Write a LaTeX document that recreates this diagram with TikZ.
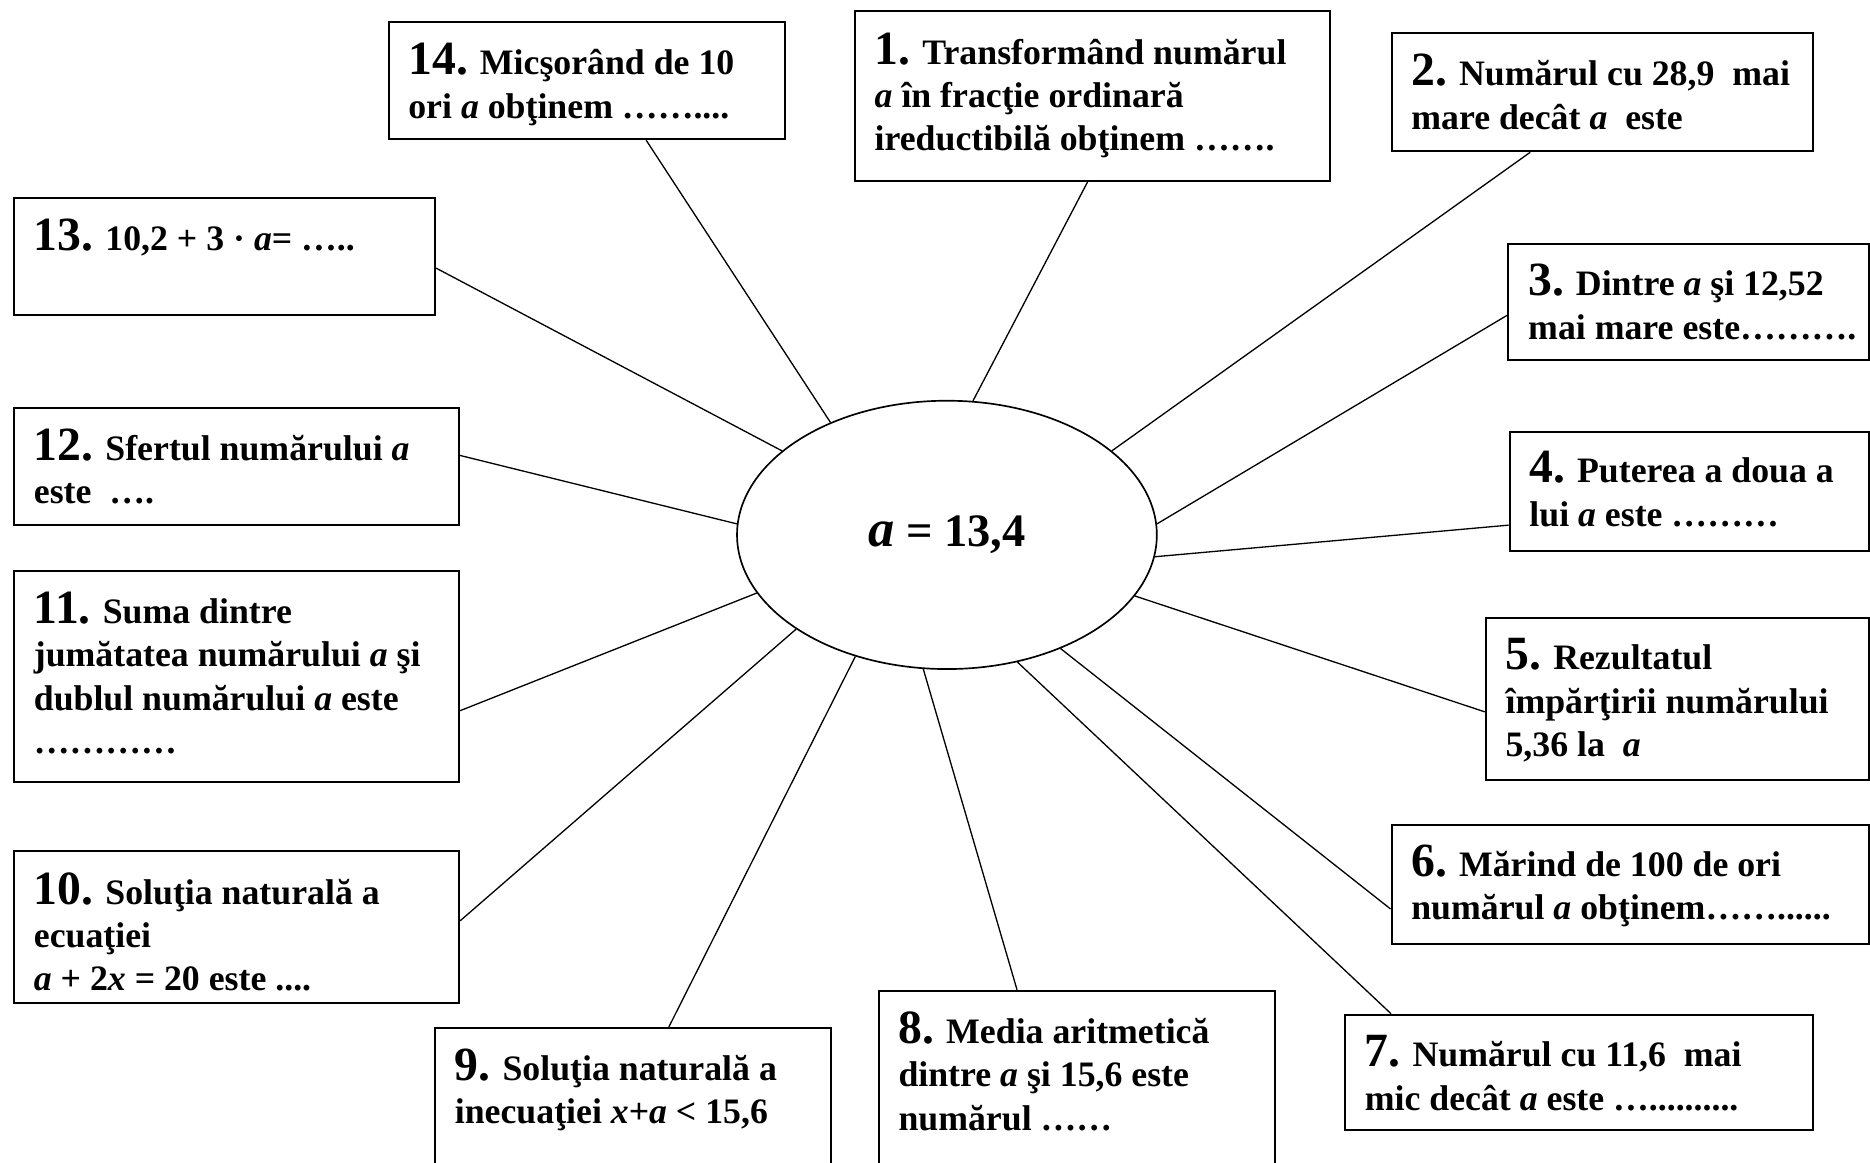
\documentclass[tikz,border=0pt]{standalone}
\usepackage{fontspec}
\setmainfont{Liberation Serif}
\usetikzlibrary{shapes.geometric,calc}

\newcommand{\nr}[1]{{\fontsize{20}{18.2}\selectfont #1}}
\newcommand{\va}{\textit{a}}

\tikzset{
  qbox/.style={draw, line width=0.85pt, inner sep=0pt, anchor=north west},
  qtext/.style={anchor=north west, inner sep=0pt, align=left,
    font=\fontsize{15}{18.2}\selectfont\bfseries},
  conn/.style={line width=0.55pt},
  centre/.style={draw, ellipse, line width=0.7pt, inner sep=0pt,
    minimum width=176pt, minimum height=112.5pt,
    font=\fontsize{19.5}{24}\selectfont\bfseries},
}

\begin{document}
\begin{tikzpicture}[x=0.5pt,y=-0.5pt]
\useasboundingbox (0,0) rectangle (1568,975);
\clip (0,0) rectangle (1568,975);
\fill[white] (0,0) rectangle (1568,975);

% centre
\node[centre] (e) at (794,448.5) {\textit{\fontsize{22}{24}\selectfont a} = 13,4};

% boxes
\node[qbox, minimum width=166pt,   minimum height=49pt]   (b14) at (325,18)   {};
\node[qbox, minimum width=199pt,   minimum height=71.5pt] (b1)  at (716,8)    {};
\node[qbox, minimum width=176.5pt, minimum height=49.5pt] (b2)  at (1166,27)  {};
\node[qbox, minimum width=176.5pt, minimum height=49pt]   (b13) at (11,165)   {};
\node[qbox, minimum width=151pt,   minimum height=48.5pt] (b3)  at (1264,204) {};
\node[qbox, minimum width=186.5pt, minimum height=49pt]   (b12) at (11,341)   {};
\node[qbox, minimum width=150.5pt, minimum height=50pt]   (b4)  at (1265,361) {};
\node[qbox, minimum width=186.5pt, minimum height=88.5pt] (b11) at (11,478)   {};
\node[qbox, minimum width=160.5pt, minimum height=68pt]   (b5)  at (1245,517) {};
\node[qbox, minimum width=200pt,   minimum height=50pt]   (b6)  at (1166,691) {};
\node[qbox, minimum width=186.5pt, minimum height=63.5pt] (b10) at (11,713)   {};
\node[qbox, minimum width=196pt,   minimum height=48.5pt] (b7)  at (1127,850) {};
\node[qbox, minimum width=166pt,   minimum height=80pt]   (b8)  at (736,830)  {};
\node[qbox, minimum width=166pt,   minimum height=65pt]   (b9)  at (364,861)  {};

% texts
\node[qtext] (t14) at ($(b14.north west)+(8.5pt,-9pt)$) {\nr{14.} Micşorând de 10\\ori \va{} obţinem ……....};
\node[qtext] (t1)  at ($(b1.north west)+(8.5pt,-9.5pt)$) {\nr{1.} Transformând numărul\\\va{} în fracţie ordinară\\ireductibilă obţinem …….};
\node[qtext] (t2)  at ($(b2.north west)+(8.5pt,-9pt)$) {\nr{2.} Numărul cu 28,9\ \ mai\\mare decât \va\ \ este};
\node[qtext] (t13) at ($(b13.north west)+(8.5pt,-9pt)$) {\nr{13.} 10,2 + 3 · \va= …..};
\node[qtext] (t3)  at ($(b3.north west)+(8.5pt,-8.5pt)$) {\nr{3.} Dintre \va{} şi 12,52\\mai mare este……….};
\node[qtext] (t12) at ($(b12.north west)+(8.5pt,-9pt)$) {\nr{12.} Sfertul numărului \va\\este\ \ ….};
\node[qtext] (t4)  at ($(b4.north west)+(8.5pt,-8.5pt)$) {\nr{4.} Puterea a doua a\\lui \va{} este ………};
\node[qtext] (t11) at ($(b11.north west)+(8.5pt,-9pt)$) {\nr{11.} Suma dintre\\jumătatea numărului \va{} şi\\dublul numărului \va{} este\\…………};
\node[qtext] (t5)  at ($(b5.north west)+(8.5pt,-9pt)$) {\nr{5.} Rezultatul\\împărţirii numărului\\5,36 la\ \ \va};
\node[qtext] (t6)  at ($(b6.north west)+(8.5pt,-8.5pt)$) {\nr{6.} Mărind de 100 de ori\\numărul \va{} obţinem……......};
\node[qtext] (t10) at ($(b10.north west)+(8.5pt,-9pt)$) {\nr{10.} Soluţia naturală a\\ecuaţiei\\\va{} + 2\textit{x} = 20 este ....};
\node[qtext] (t7)  at ($(b7.north west)+(8.5pt,-9pt)$) {\nr{7.} Numărul cu 11,6\ \ mai\\mic decât \va{} este …..........};
\node[qtext] (t8)  at ($(b8.north west)+(8.5pt,-9pt)$) {\nr{8.} Media aritmetică\\dintre \va{} şi 15,6 este\\numărul ……};
\node[qtext] (t9)  at ($(b9.north west)+(8.5pt,-9pt)$) {\nr{9.} Soluţia naturală a\\inecuaţiei \textit{x}+\va{} < 15,6};

% connectors
\draw[conn] ($(b14.south west)!0.65!(b14.south east)$) -- (e.136);
\draw[conn] ($(b1.south west)!0.49!(b1.south east)$) -- (e.79);
\draw[conn] ($(b2.south west)!0.33!(b2.south east)$) -- (e.27);
\draw[conn] ($(b3.north west)!0.61!(b3.south west)$) -- (e.3);
\draw[conn] ($(b4.north west)!0.78!(b4.south west)$) -- (e.-6);
\draw[conn] ($(b5.north west)!0.58!(b5.south west)$) -- (e.-18);
\draw[conn] ($(b6.north west)!0.70!(b6.south west)$) -- (e.-45);
\draw[conn] ($(b7.north west)!0.10!(b7.north east)$) -- (e.-61);
\draw[conn] ($(b8.north west)!0.35!(b8.north east)$) -- (e.-100);
\draw[conn] ($(b9.north west)!0.59!(b9.north east)$) -- (e.-127);
\draw[conn] ($(b10.north east)!0.46!(b10.south east)$) -- (e.-148);
\draw[conn] ($(b11.north east)!0.66!(b11.south east)$) -- (e.-163);
\draw[conn] ($(b12.north east)!0.41!(b12.south east)$) -- (e.177);
\draw[conn] ($(b13.north east)!0.60!(b13.south east)$) -- (e.153);
\end{tikzpicture}
\end{document}
